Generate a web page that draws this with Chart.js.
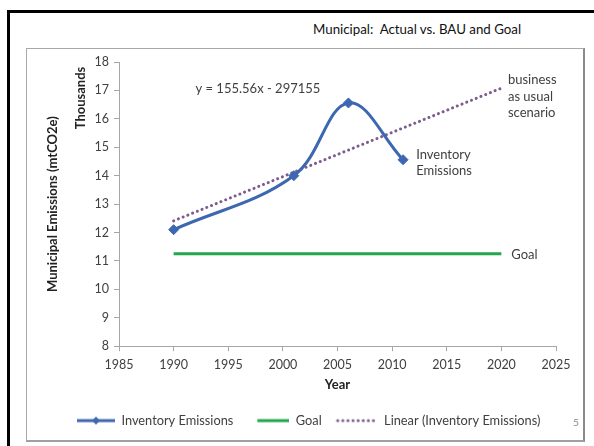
<!DOCTYPE html>
<html>
<head>
<meta charset="utf-8">
<script src="https://cdn.jsdelivr.net/npm/chart.js@4.4.0/dist/chart.umd.min.js"></script>
<style>
  body { margin: 0; width: 594px; height: 446px; overflow: hidden; background: #fff; font-family: Lato, sans-serif; }
  #frame { position: absolute; left: 7px; top: 10px; width: 600px; height: 450px; border-left: 3px solid #000; border-top: 3px solid #000; }
  #box { position: absolute; left: 26px; top: 48px; width: 556px; height: 391px; border: 1px solid #a8a8a8; border-right: 2px solid #8a8a8a; border-bottom: 2px solid #a0a0a0; }
  #title { position: absolute; left: 313px; top: 21px; font-size: 13.3px; color: #111; white-space: pre; }
  #page { position: absolute; left: 573px; top: 416px; font-size: 10px; color: #8a8a8a; }
  canvas { position: absolute; left: 0; top: 0; }
</style>
</head>
<body>
<div id="frame"></div>
<div id="box"></div>
<div id="title">Municipal:  Actual vs. BAU and Goal</div>
<div id="page">5</div>
<canvas id="chart" width="594" height="446"></canvas>
<script>
// values (tonnes, in thousands)
var years = [1990, 2001, 2006, 2011];
var emissions = [12.1, 14.0, 16.56, 14.56];
var goalYears = [1990, 2020];
var goalValues = [11.25, 11.25];
var trendYears = [1990, 2020];
var trendValues = [12.41, 17.08];
var seriesNames = ['Inventory Emissions', 'Goal', 'Linear (Inventory Emissions)'];

var blue = '#3d67b0';
var green = '#22a64e';
var purple = '#7d5c8e';

var iconW = 46;

function pts(xs, ys) {
    var out = [];
    for (var i = 0; i < xs.length; i++) {
        out.push({x: xs[i], y: ys[i]});
    }
    return out;
}

// legend pictures, drawn flush right; the blank left part works as the gap
function legendIcon(kind) {
    var c = document.createElement('canvas');
    c.width = iconW;
    c.height = 12;
    var g = c.getContext('2d');
    g.lineWidth = 3;
    if (kind === 0) {
        g.strokeStyle = blue;
        g.beginPath(); g.moveTo(iconW - 38, 6); g.lineTo(iconW, 6); g.stroke();
        g.fillStyle = blue;
        var cx = iconW - 19;
        g.beginPath(); g.moveTo(cx, 2); g.lineTo(cx + 4, 6); g.lineTo(cx, 10); g.lineTo(cx - 4, 6); g.closePath(); g.fill();
    } else if (kind === 1) {
        g.strokeStyle = green;
        g.beginPath(); g.moveTo(iconW - 32, 6); g.lineTo(iconW, 6); g.stroke();
    } else {
        g.strokeStyle = purple;
        g.lineCap = 'round';
        g.setLineDash([0.1, 5]);
        g.beginPath(); g.moveTo(iconW - 40, 6); g.lineTo(iconW, 6); g.stroke();
    }
    return c;
}

var padLeft = 18;

var notesPlugin = {
    id: 'notes',
    afterLayout: function (chart) {
        // the slide's legend starts further right than the plot's left edge
        var lg = chart.legend;
        var w = lg.right - lg.left;
        lg.left = 59;
        lg.right = lg.left + w;
    },
    afterDraw: function (chart) {
        var ctx = chart.ctx;
        var xs = chart.scales.x;
        var ys = chart.scales.y;
        ctx.save();
        ctx.fillStyle = '#404040';
        ctx.font = '13px Lato';
        ctx.textAlign = 'left';
        ctx.textBaseline = 'middle';
        var notes = [
            {lines: ['y = 155.56x - 297155'], x: 1992, y: 17.05},
            {lines: ['business', 'as usual', 'scenario'], x: 2020.6, y: 17.37},
            {lines: ['Inventory', 'Emissions'], x: 2012.2, y: 14.74},
            {lines: ['Goal'], x: 2020.9, y: 11.2}
        ];
        notes.forEach(function (n) {
            var px = xs.getPixelForValue(n.x);
            var py = ys.getPixelForValue(n.y);
            n.lines.forEach(function (t, i) {
                ctx.fillText(t, px, py + i * 16.5);
            });
        });
        // axis unit label
        ctx.font = 'bold 13px Lato';
        ctx.fillStyle = '#222';
        ctx.textAlign = 'center';
        ctx.translate(ys.right - 38, chart.chartArea.top + 36);
        ctx.rotate(-Math.PI / 2);
        ctx.fillText('Thousands', 0, 0);
        ctx.restore();
    }
};

var ctx = document.getElementById('chart').getContext('2d');
var chart = new Chart(ctx, {
    type: 'scatter',
    data: {
        datasets: [{
            label: seriesNames[0],
            data: pts(years, emissions),
            showLine: true,
            borderColor: blue,
            backgroundColor: blue,
            borderWidth: 3,
            tension: 0.38,
            pointStyle: 'rectRot',
            pointRadius: 5,
            pointBorderWidth: 1
        }, {
            label: seriesNames[1],
            data: pts(goalYears, goalValues),
            showLine: true,
            borderColor: green,
            backgroundColor: green,
            borderWidth: 3,
            pointRadius: 0
        }, {
            label: seriesNames[2],
            data: pts(trendYears, trendValues),
            showLine: true,
            borderColor: purple,
            backgroundColor: purple,
            borderWidth: 3,
            borderDash: [0.1, 5],
            borderCapStyle: 'round',
            pointRadius: 0
        }]
    },
    options: {
        responsive: false,
        animation: false,
        layout: {padding: {left: padLeft, right: 38, top: 62, bottom: 9}},
        plugins: {
            tooltip: {enabled: false},
            legend: {
                position: 'bottom',
                align: 'start',
                labels: {
                    usePointStyle: true,
                    pointStyleWidth: iconW,
                    boxHeight: 12,
                    padding: 10,
                    color: '#404040',
                    font: {family: 'Lato', size: 12.8},
                    generateLabels: function (c) {
                        return c.data.datasets.map(function (ds, i) {
                            return {text: ds.label, pointStyle: legendIcon(i), datasetIndex: i, fontColor: '#404040', lineWidth: 0};
                        });
                    }
                }
            }
        },
        scales: {
            x: {
                type: 'linear',
                min: 1985,
                max: 2025,
                ticks: {stepSize: 5, color: '#404040', font: {family: 'Lato', size: 12.5}, padding: 6,
                    callback: function (v) { return String(v); }},
                grid: {drawOnChartArea: false, tickLength: 5, color: '#a6a6a6'},
                border: {color: '#a6a6a6'},
                title: {display: true, text: 'Year', color: '#222', font: {family: 'Lato', size: 13, weight: 'bold'}, padding: {top: 0, bottom: 12}},
                afterFit: function (s) { s.height = 58; }
            },
            y: {
                min: 8,
                max: 18,
                ticks: {stepSize: 1, color: '#404040', font: {family: 'Lato', size: 12.5}, padding: 5},
                grid: {drawOnChartArea: false, tickLength: 5, color: '#a6a6a6'},
                border: {color: '#a6a6a6'},
                title: {display: true, text: 'Municipal Emissions (mtCO2e)', color: '#222', font: {family: 'Lato', size: 13, weight: 'bold'}, padding: {top: 27, bottom: 0}},
                afterFit: function (s) { s.width = 119 - padLeft; }
            }
        }
    },
    plugins: [notesPlugin]
});
</script>
</body>
</html>
